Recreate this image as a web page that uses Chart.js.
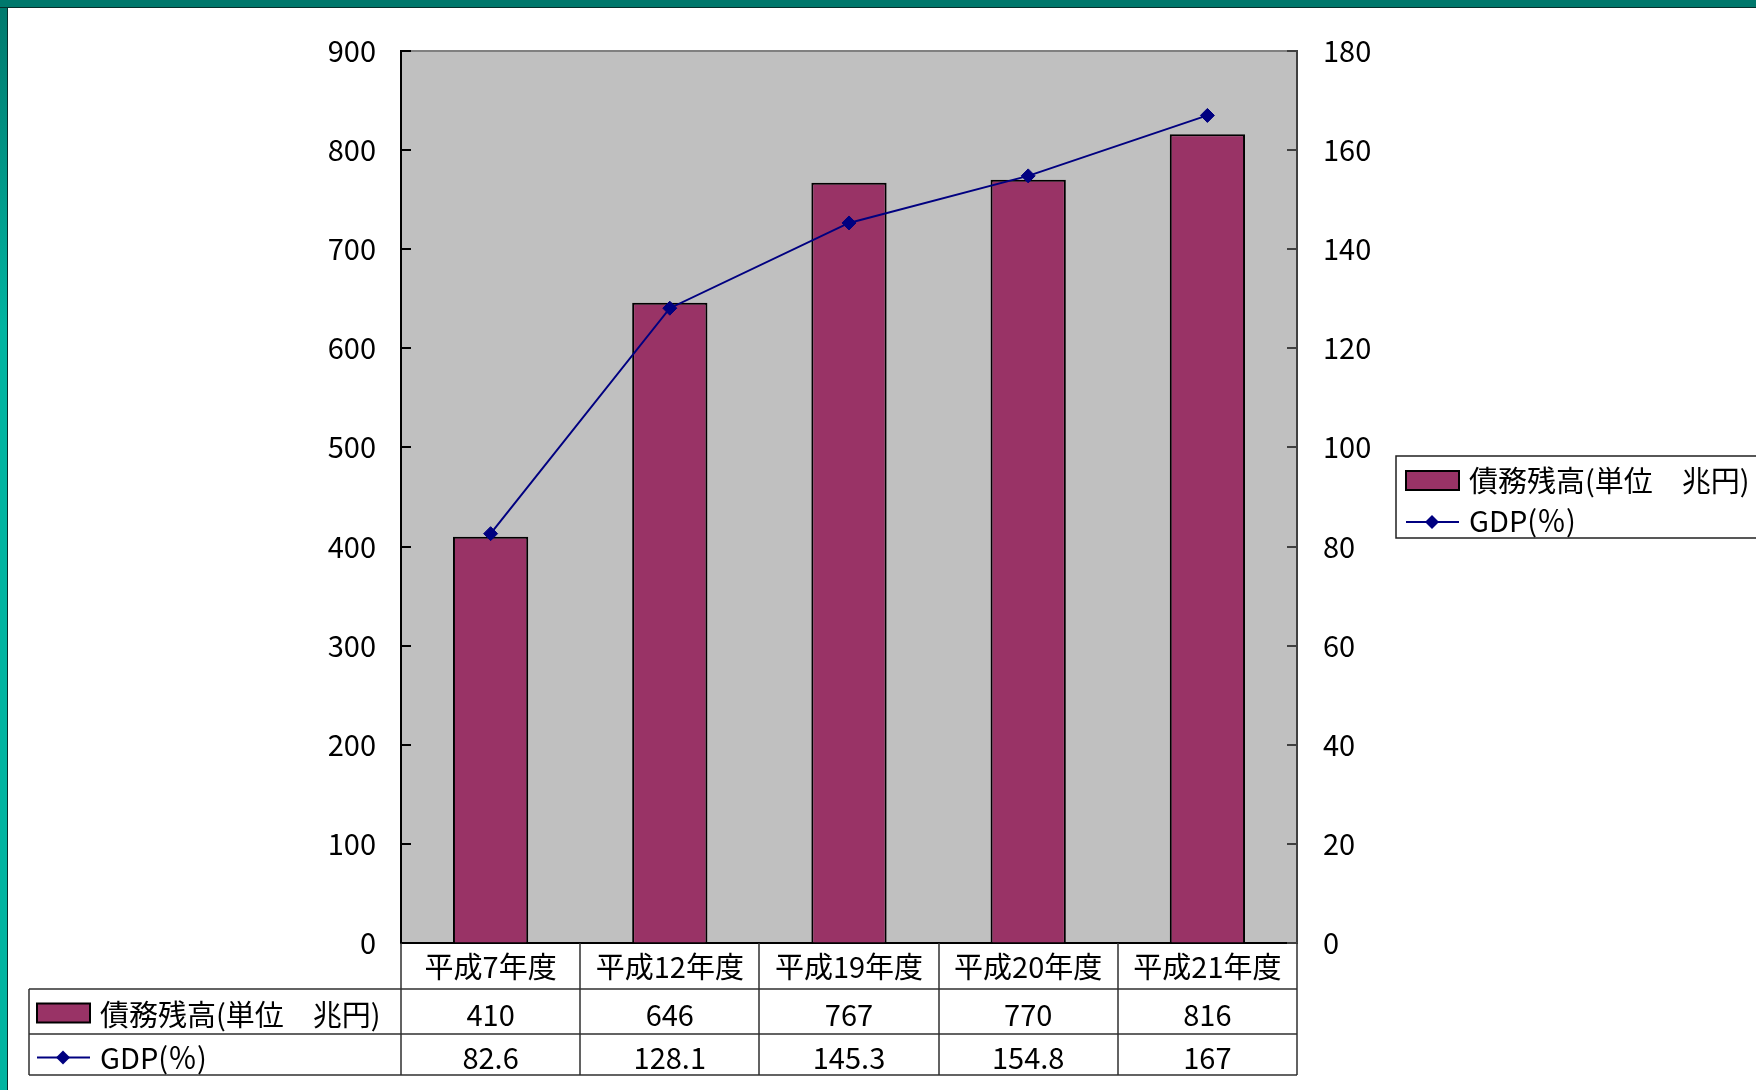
<!DOCTYPE html>
<html>
<head>
<meta charset="utf-8">
<script src="https://cdn.jsdelivr.net/npm/chart.js@4"></script>
<style>
  html, body { margin: 0; padding: 0; background: #fff; overflow: hidden; }
  #wrap { position: relative; width: 1756px; height: 1090px; }
  #grafico { position: absolute; left: 0; top: 0; }
  .faixaTopo { position: absolute; left: 0; top: 0; width: 1756px; height: 7px; background: #00786c; border-bottom: 1px solid #06302c; }
  .faixaLado { position: absolute; left: 0; top: 0; width: 7px; height: 1090px; background: linear-gradient(#00786c, #00b4a0 30%, #00b4a0); border-right: 1px solid #06302c; }
</style>
</head>
<body>
<div id="wrap">
  <canvas id="grafico" width="1756" height="1090"></canvas>
  <div class="faixaLado"></div>
  <div class="faixaTopo"></div>
</div>
<script>
// dados
const categorias = ["平成7年度", "平成12年度", "平成19年度", "平成20年度", "平成21年度"];
const dividaValores = [410, 646, 767, 770, 816];
const gdpValores = [82.6, 128.1, 145.3, 154.8, 167];
const dividaNome = "債務残高(単位　兆円)";
const gdpNome = "GDP(％)";
const eixoEsqMax = 900, eixoEsqPasso = 100;
const eixoDirMax = 180, eixoDirPasso = 20;

const fonte = { family: "'Noto Sans CJK JP', 'Noto Sans', sans-serif", size: 29 };
const fonteCss = "29px 'Noto Sans CJK JP', 'Noto Sans', sans-serif";
const corBarra = "#993366";
const corLinha = "#000080";

// linhas da tabela (abaixo da area do grafico)
const alturaCabecalho = 46;
const alturaLinha1 = 45;
const alturaLinha2 = 41;
const tabelaEsq = 29;

function desenhaLosango(c, x, y, r) {
  c.beginPath();
  c.moveTo(x, y - r);
  c.lineTo(x + r, y);
  c.lineTo(x, y + r);
  c.lineTo(x - r, y);
  c.closePath();
  c.fill();
}

// fundo cinza + marcas internas dos eixos
const fundoPlugin = {
  id: "fundo",
  beforeDraw(chart) {
    const { ctx: c, chartArea: a } = chart;
    c.save();
    c.fillStyle = "#c0c0c0";
    c.fillRect(a.left, a.top, a.right - a.left, a.bottom - a.top);
    c.strokeStyle = "#808080";
    c.lineWidth = 2;
    c.beginPath();
    c.moveTo(a.left, a.top);
    c.lineTo(a.right, a.top);
    c.stroke();
    c.restore();
  },
  beforeDatasetsDraw(chart) {
    const { ctx: c, chartArea: a, scales } = chart;
    c.save();
    c.lineWidth = 2;
    c.strokeStyle = "#000";
    scales.y.ticks.forEach((t) => {
      const y = Math.round(scales.y.getPixelForValue(t.value));
      c.beginPath();
      c.moveTo(a.left, y);
      c.lineTo(a.left + 10, y);
      c.stroke();
    });
    c.strokeStyle = "#404040";
    scales.y2.ticks.forEach((t) => {
      const y = Math.round(scales.y2.getPixelForValue(t.value));
      c.beginPath();
      c.moveTo(a.right, y);
      c.lineTo(a.right - 10, y);
      c.stroke();
    });
    c.restore();
  },
};

// tabela de dados
const tabelaPlugin = {
  id: "tabela",
  afterDraw(chart) {
    const { ctx: c, chartArea: a, scales } = chart;
    const x = scales.x;
    const meia = (x.getPixelForValue(1) - x.getPixelForValue(0)) / 2;
    const y0 = a.bottom;
    const y1 = y0 + alturaCabecalho;
    const y2 = y1 + alturaLinha1;
    const y3 = y2 + alturaLinha2;

    c.save();
    c.strokeStyle = "#303030";
    c.lineWidth = 1.5;
    c.beginPath();
    for (let i = 0; i <= categorias.length; i++) {
      const px = Math.round(x.getPixelForValue(0) - meia + i * meia * 2);
      c.moveTo(px, y0);
      c.lineTo(px, y3);
    }
    [y1, y2, y3].forEach((yy) => {
      c.moveTo(tabelaEsq, yy);
      c.lineTo(a.right, yy);
    });
    c.moveTo(tabelaEsq, y1);
    c.lineTo(tabelaEsq, y3);
    c.stroke();

    c.fillStyle = "#000";
    c.font = fonteCss;
    c.textAlign = "center";
    c.textBaseline = "middle";
    categorias.forEach((_, i) => {
      const px = x.getPixelForValue(i);
      c.fillText(String(dividaValores[i]), px, (y1 + y2) / 2 + 3);
      c.fillText(String(gdpValores[i]), px, (y2 + y3) / 2 + 3);
    });

    // rótulos das linhas
    const m1 = (y1 + y2) / 2;
    c.fillStyle = corBarra;
    c.fillRect(37, m1 - 8, 53, 19);
    c.strokeStyle = "#000";
    c.lineWidth = 2;
    c.strokeRect(37, m1 - 8, 53, 19);
    c.fillStyle = "#000";
    c.textAlign = "left";
    c.fillText(dividaNome, 100, m1 + 3);

    const m2 = (y2 + y3) / 2 + 3;
    c.strokeStyle = corLinha;
    c.lineWidth = 2;
    c.beginPath();
    c.moveTo(37, m2);
    c.lineTo(90, m2);
    c.stroke();
    c.fillStyle = corLinha;
    desenhaLosango(c, 63, m2, 7);
    c.fillStyle = "#000";
    c.fillText(gdpNome, 100, m2);
    c.restore();
  },
};

// legenda à direita
const legendaPlugin = {
  id: "legenda",
  afterDraw(chart) {
    const c = chart.ctx;
    const lx = 1396, ly = 456, lh = 82;
    c.save();
    c.fillStyle = "#fff";
    c.fillRect(lx, ly, 1756 - lx, lh);
    c.strokeStyle = "#202020";
    c.lineWidth = 1.5;
    c.strokeRect(lx, ly, 1756 - lx + 5, lh);

    c.fillStyle = corBarra;
    c.fillRect(1406, 471, 53, 19);
    c.strokeStyle = "#000";
    c.lineWidth = 2;
    c.strokeRect(1406, 471, 53, 19);

    c.font = fonteCss;
    c.fillStyle = "#000";
    c.textAlign = "left";
    c.textBaseline = "middle";
    c.fillText(dividaNome, 1469, 481);

    c.strokeStyle = corLinha;
    c.beginPath();
    c.moveTo(1406, 522);
    c.lineTo(1459, 522);
    c.stroke();
    c.fillStyle = corLinha;
    desenhaLosango(c, 1432, 522, 7);
    c.fillStyle = "#000";
    c.fillText(gdpNome, 1469, 521);
    c.restore();
  },
};

const ctx = document.getElementById("grafico").getContext("2d");

new Chart(ctx, {
  data: {
    labels: categorias,
    datasets: [
      {
        type: "line",
        label: gdpNome,
        data: gdpValores,
        yAxisID: "y2",
        borderColor: corLinha,
        borderWidth: 2,
        pointStyle: "rectRot",
        pointRadius: 7,
        pointBackgroundColor: corLinha,
        pointBorderColor: corLinha,
        pointBorderWidth: 1,
        tension: 0,
        order: 0,
      },
      {
        type: "bar",
        label: dividaNome,
        data: dividaValores,
        yAxisID: "y",
        backgroundColor: corBarra,
        borderColor: "#000",
        borderWidth: 2,
        categoryPercentage: 1,
        barPercentage: 0.42,
        order: 1,
      },
    ],
  },
  options: {
    responsive: false,
    animation: false,
    layout: { padding: { top: 51, left: 0, right: 0, bottom: 0 } },
    plugins: {
      legend: { display: false },
      tooltip: { enabled: false },
    },
    scales: {
      x: {
        grid: { drawOnChartArea: false, drawTicks: false },
        border: { color: "#000", width: 2 },
        ticks: { font: fonte, color: "#000", padding: 7, maxRotation: 0 },
        afterFit(s) { s.height = 147; },
      },
      y: {
        position: "left",
        min: 0,
        max: eixoEsqMax,
        ticks: { stepSize: eixoEsqPasso, font: fonte, color: "#000", padding: 25 },
        grid: { drawOnChartArea: false, drawTicks: false },
        border: { color: "#000", width: 2 },
        afterFit(s) { s.width = 401; },
      },
      y2: {
        position: "right",
        min: 0,
        max: eixoDirMax,
        ticks: { stepSize: eixoDirPasso, font: fonte, color: "#000", padding: 26 },
        grid: { drawOnChartArea: false, drawTicks: false },
        border: { color: "#404040", width: 2 },
        afterFit(s) { s.width = 459; },
      },
    },
  },
  plugins: [fundoPlugin, tabelaPlugin, legendaPlugin],
});
</script>
</body>
</html>
